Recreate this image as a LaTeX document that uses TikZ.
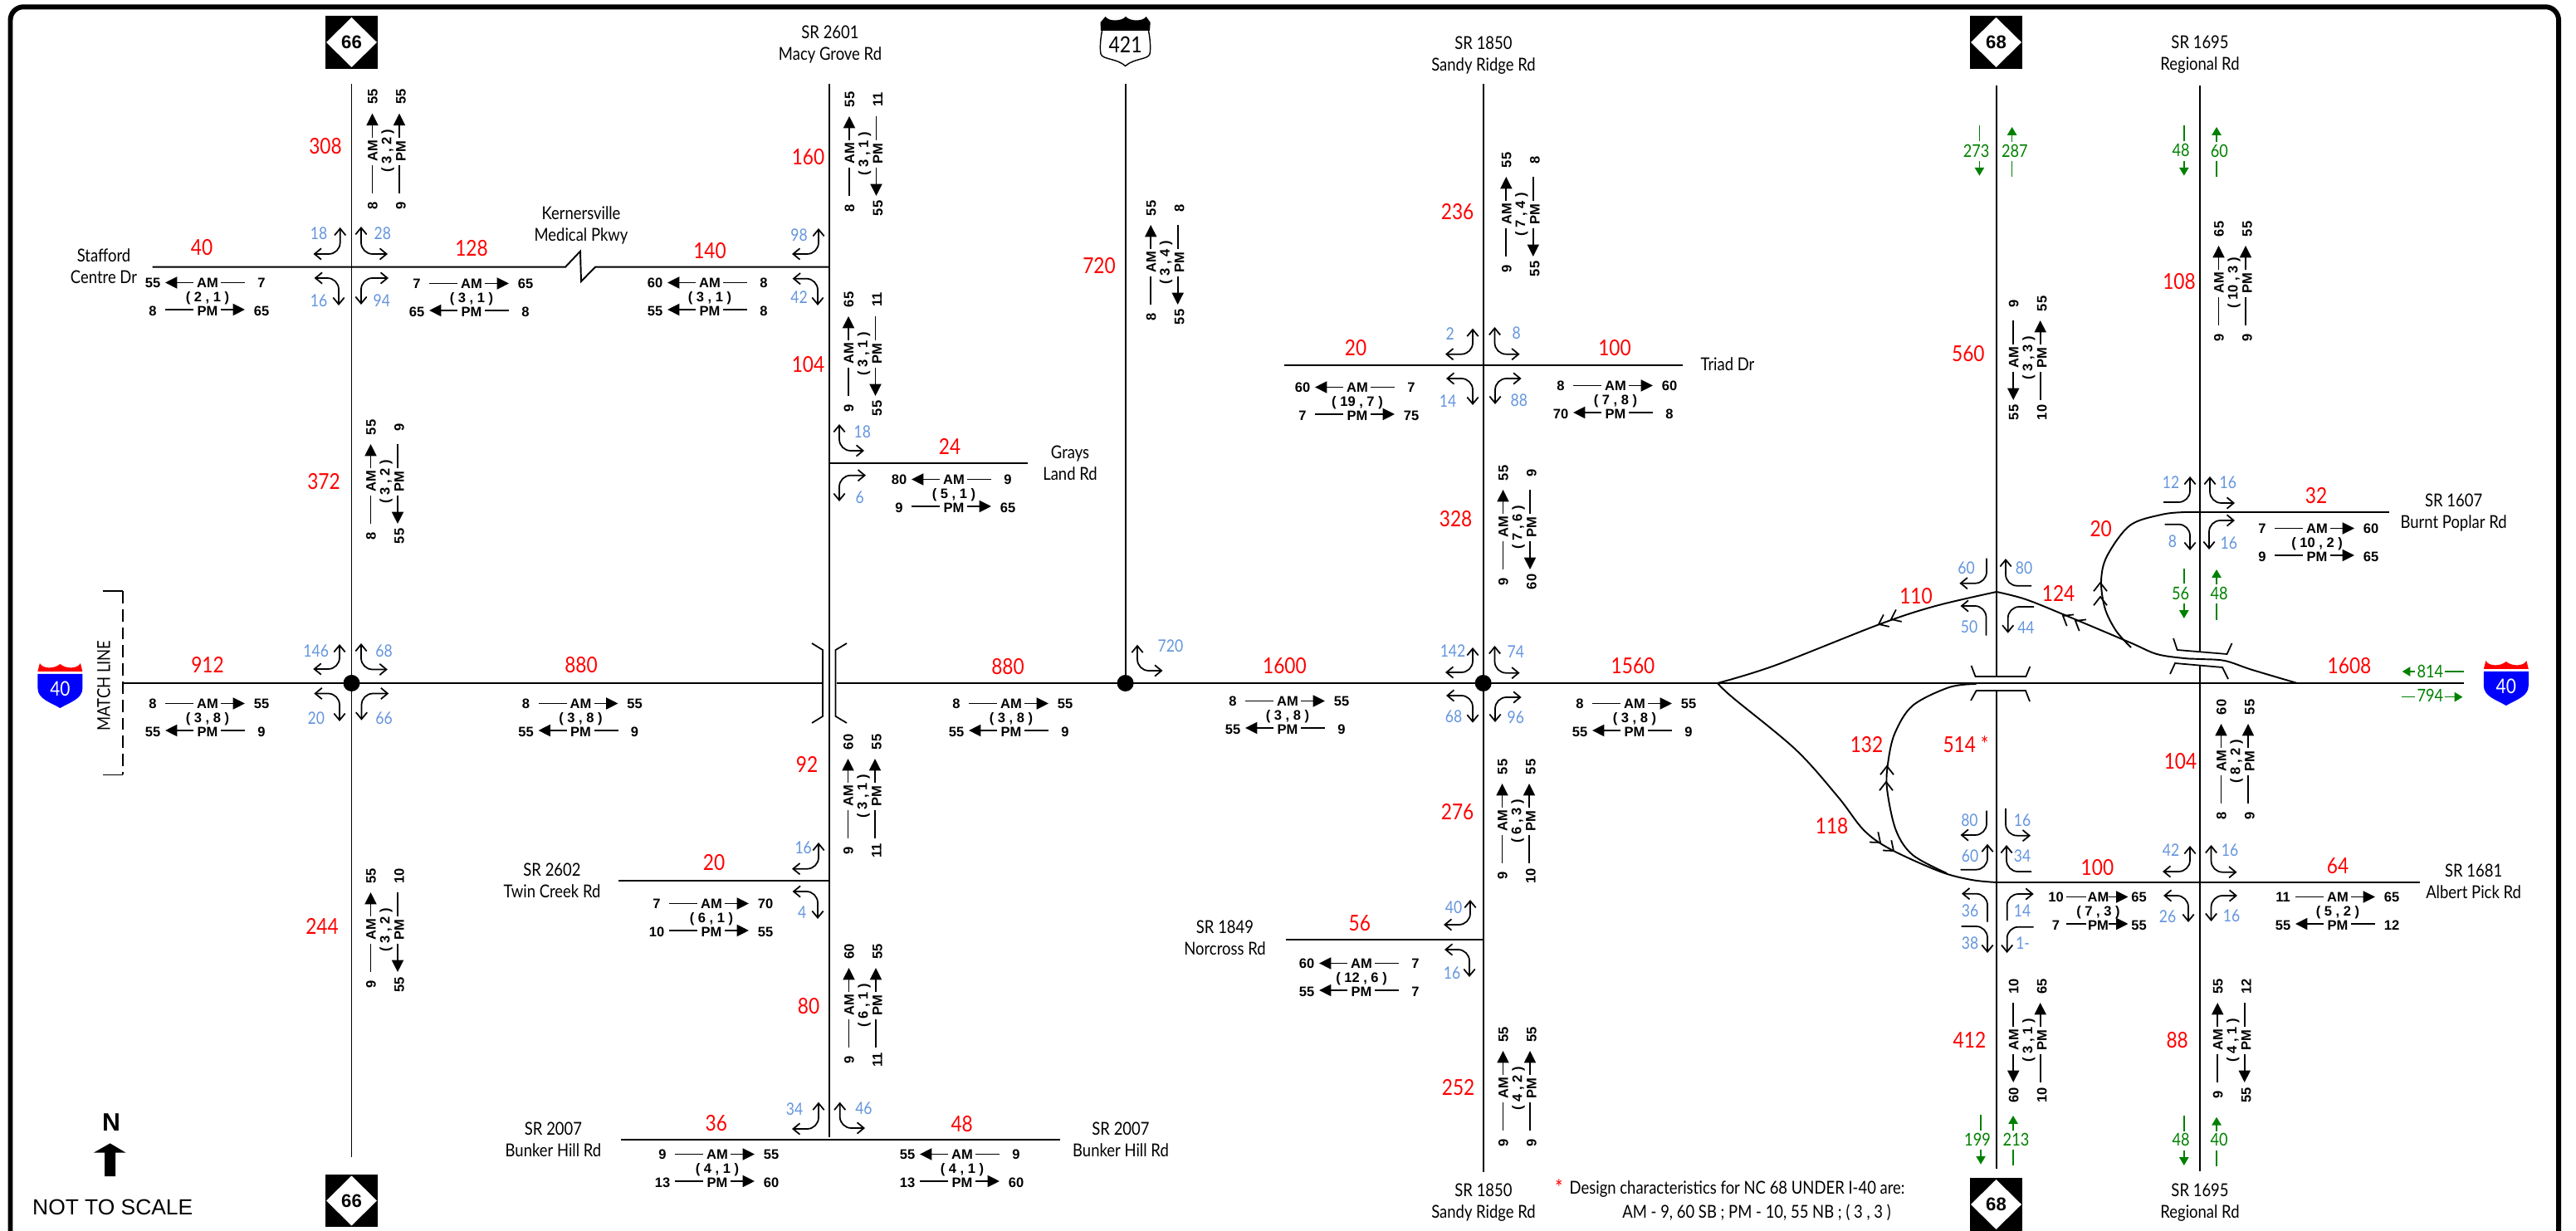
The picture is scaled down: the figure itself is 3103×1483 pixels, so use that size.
\documentclass[tikz,border=0pt]{standalone}
\usepackage{fontspec}
\usetikzlibrary{arrows.meta}
\newfontfamily\lblfont[FakeStretch=0.86]{Lato}
\newfontfamily\numfont{Liberation Sans}
\definecolor{vblue}{HTML}{6495DD}
\definecolor{vgreen}{HTML}{008000}
\tikzset{
 road/.style={line width=0.55pt,line cap=butt},
 thinl/.style={line width=0.5pt},
 turn/.style={line width=0.5pt,rounded corners=3.9pt,arrows={-},>={Straight Barb[length=2.3pt,width=3.8pt]}},
 farrow/.style={line width=0.5pt,-{Triangle[length=4.1pt,width=4pt]}},
 garrow/.style={line width=0.45pt,vgreen,-{Triangle[length=2.8pt,width=3.2pt]}},
 gline/.style={line width=0.45pt,vgreen},
 numtxt/.style={inner sep=0pt,font=\numfont\bfseries\fontsize{4.7pt}{5pt}\selectfont},
 redtxt/.style={inner sep=0pt,text=red,font=\lblfont\fontsize{7.5pt}{9pt}\selectfont},
 bluetxt/.style={inner sep=0pt,text=vblue,font=\lblfont\fontsize{5.8pt}{7pt}\selectfont},
 greentxt/.style={inner sep=0pt,text=vgreen,font=\lblfont\fontsize{6pt}{7pt}\selectfont},
 roadtxt/.style={inner sep=0pt,align=center,font=\lblfont\fontsize{6.1pt}{7.4pt}\selectfont},
}
\newcount\nn
\newcommand\tx[4][]{\global\advance\nn by 1 \node[#1] (t\the\nn) at (#2,#3) {#4};}
\newcommand\rd[3]{\tx[redtxt]{#1}{#2}{#3}}
\newcommand\blc[3]{\tx[bluetxt]{#1}{#2}{#3}}
\newcommand\ble[3]{\tx[bluetxt,anchor=east]{#1}{#2}{#3}}
\newcommand\blw[3]{\tx[bluetxt,anchor=west]{#1}{#2}{#3}}
\newcommand\gr[3]{\tx[greentxt]{#1}{#2}{#3}}
\newcommand\rn[3]{\tx[roadtxt]{#1}{#2}{#3}}
% turning arrow: horizontal end, vertical end
\newcommand\trn[5]{\draw[turn,#1] (#2,#3) -- (#4,#3) -- (#4,#5);}
\newcommand\chev[3]{\draw[line width=0.5pt] (#1,#2) ++({#3+142}:13) -- (#1,#2) -- ++({#3+218}:13);}
% count block
\def\Nl{-66}\def\Nr{65}\def\Ll{-51}\def\Lr{-17}\def\Rl{16}\def\Rr{45}
\def\brow#1#2#3#4#5{%
 \tx{\Nl}{#1}{#3}\tx{\Nr}{#1}{#4}%
 \if#5R\relax
  \draw[thinl] (\Ll,#2) -- (\Lr,#2); \draw[farrow] (\Rl,#2) -- (\Rr,#2);
 \else
  \draw[farrow] (\Lr,#2) -- (\Ll,#2); \draw[thinl] (\Rl,#2) -- (\Rr,#2);
 \fi}
\newcommand\blk[5]{%
 \begin{scope}[shift={#2},rotate=#1,every node/.append style={numtxt,transform shape}]
  \brow{-18}{-18.5}#3%
  \tx{0}{-18}{AM}%
  \tx{0}{0}{#4}%
  \brow{16}{14}#5%
  \tx{0}{16}{PM}%
 \end{scope}}
\newcommand\ncsh[3]{%
 \fill (#1-31.8,#2-31.7) rectangle (#1+31.8,#2+31.7);
 \fill[white] (#1-30.5,#2) -- (#1,#2-30) -- (#1+30.5,#2) -- (#1,#2+30) -- cycle;
 \tx[inner sep=0pt,font=\numfont\bfseries\fontsize{6.3pt}{7pt}\selectfont]{#1}{#2}{#3}}
\newcommand\ishield[2]{%
 \fill[red] (#1-27,#2+10) -- (#1-24.5,#2) .. controls (#1-21,#2+7) and (#1-7,#2+7) .. (#1,#2+1)
   .. controls (#1+7,#2+7) and (#1+21,#2+7) .. (#1+24.5,#2) -- (#1+27,#2+10) -- cycle;
 \fill[blue] (#1-27,#2+13) -- (#1+27,#2+13) -- (#1+27,#2+30)
   .. controls (#1+27,#2+43) and (#1+12,#2+47) .. (#1,#2+54)
   .. controls (#1-12,#2+47) and (#1-27,#2+43) .. (#1-27,#2+30) -- cycle;
 \tx[inner sep=0pt,text=white,font=\lblfont\fontsize{6.9pt}{8pt}\selectfont]{#1}{#2+31}{40}}
\begin{document}
\begin{tikzpicture}[x=0.01cm,y=-0.01cm]
\useasboundingbox (0,0) rectangle (3103,1483);
% frame
\draw[line width=1.7pt,rounded corners=4.5pt] (12.5,1490) -- (12.5,8.3) -- (3082,8.3) -- (3082,1490);
% road coordinates
\coordinate (w) at (148,823);
\coordinate (brW) at (991,823);
\coordinate (brE) at (1008,823);
\coordinate (e) at (2968,823);
\coordinate (jn) at (2069,823);
\coordinate (n66a) at (423.5,101); \coordinate (n66b) at (423.5,1394);
\coordinate (macA) at (999,101); \coordinate (macB) at (999,1370);
\coordinate (usA) at (1355.6,101); \coordinate (usB) at (1355.6,823);
\coordinate (sanA) at (1786.7,101); \coordinate (sanB) at (1786.7,1412);
\coordinate (n68a) at (2404.5,103); \coordinate (n68b) at (2404.5,815);
\coordinate (n68c) at (2404.5,832); \coordinate (n68d) at (2404.5,1408);
\coordinate (regA) at (2650,103); \coordinate (regB) at (2650,785);
\coordinate (regC) at (2650,802); \coordinate (regD) at (2650,1411);
\coordinate (staf) at (183.7,321.7); \coordinate (macK) at (999,321.7);
\coordinate (gray) at (1238,558); \coordinate (macG) at (999,558);
\coordinate (twin) at (745,1060.7); \coordinate (macT) at (999,1060.7);
\coordinate (bunW) at (748,1372.7); \coordinate (bunE) at (1277,1372.7);
\coordinate (triW) at (1547,440); \coordinate (triE) at (2027,440);
\coordinate (norW) at (1548.5,1132); \coordinate (norE) at (1786.7,1132);
\coordinate (burnW) at (2650,617); \coordinate (burnE) at (2878,617);
\coordinate (albW) at (2405,1063); \coordinate (albE) at (2915,1063);
% roads
\draw[road] (n66a) -- (n66b);
\draw[road] (macA) -- (macB);
\draw[road] (usA) -- (usB);
\draw[road] (sanA) -- (sanB);
\draw[road] (n68a) -- (n68b);
\draw[road] (n68c) -- (n68d);
\draw[road] (regA) -- (regB);
\draw[road] (regC) -- (regD);
\draw[road] (w) -- (brW);
\draw[road] (brE) -- (e);
\draw[road] (staf) -- (681,321.7) -- (699,302.7) -- (700,339) -- (717,321.7) -- (macK);
\draw[road] (macG) -- (gray);
\draw[road] (twin) -- (macT);
\draw[road] (bunW) -- (bunE);
\draw[road] (triW) -- (triE);
\draw[road] (norW) -- (norE);
\draw[road] (burnW) -- (burnE);
\draw[road] (albW) -- (albE);
% ramps
\draw[road] plot[smooth,tension=0.55] coordinates {(2069,823) (2138,801.7) (2265,751.7) (2331.6,730) (2405,713)};
\draw[road] plot[smooth,tension=0.55] coordinates {(2405,713) (2440,722) (2489,741.7) (2565.6,774) (2598,788) (2631,793) (2650,794) (2680,796) (2712,806.7) (2767,823)};
\draw[road] plot[smooth,tension=0.55] coordinates {(2650,617) (2631,617) (2603.6,620) (2565.6,633) (2538,670) (2531,700) (2535.6,733) (2549,760) (2567,780)};
\draw[road] plot[smooth,tension=0.55] coordinates {(2069,823) (2086.7,840) (2163,903) (2214,960) (2245,1000) (2277,1023) (2337,1050) (2375,1060) (2405,1063)};
\draw[road] plot[smooth,tension=0.55] coordinates {(2380.6,824) (2348,828) (2304,850) (2282.6,883) (2274.5,917) (2273,950) (2283.7,1000) (2304,1030) (2345,1052)};
% chevrons
\chev{2263}{752}{155}\chev{2278}{746}{155}
\chev{2485}{742}{211}\chev{2500}{748}{211}
\chev{2530}{702}{270}\chev{2530}{719}{270}
\chev{2273}{923}{270}\chev{2272}{942}{270}
\chev{2265}{1015}{40}\chev{2281}{1025}{40}
% bridges
\draw[line width=0.5pt] (978,775) -- (991,783) -- (991,863) -- (978,871);
\draw[line width=0.5pt] (1020,775) -- (1006.6,783) -- (1006.6,863) -- (1020,871);
\draw[line width=0.5pt] (2374.6,802) -- (2379.5,815) -- (2440.4,815) -- (2445.3,803);
\draw[line width=0.5pt] (2374,844) -- (2380.6,832) -- (2440,832) -- (2445,845);
\draw[line width=0.5pt] (2618,769) -- (2622.7,783) -- (2682.5,788) -- (2688.5,775);
\draw[line width=0.5pt] (2614,812) -- (2620,799) -- (2677,804) -- (2684,818);
% interchange dots
\fill (423.5,823) circle[radius=10];
\fill (1355.6,823) circle[radius=10];
\fill (1786.7,823) circle[radius=10];
% match line
\draw[line width=0.55pt] (123.5,712) -- (148,712);
\draw[line width=0.55pt] (123.5,933.5) -- (148,933.5);
\draw[line width=0.55pt,dash pattern=on 4.2pt off 2pt] (148,712) -- (148,933.5);
\tx[roadtxt,rotate=90]{125}{826}{MATCH LINE}
% turning arrows
% Stafford
\trn{<->}{377.5}{306}{409.7}{274}\trn{<->}{467}{306}{435}{273}
\trn{<->}{378.6}{335}{408}{368}\trn{<->}{468}{335}{435}{367}
\ble{395}{281}{18}\blw{450}{281}{28}\ble{395}{362}{16}\blw{449}{362}{94}
% Kernersville
\trn{<->}{954}{306}{986}{275}\trn{<->}{954.6}{335.7}{985}{368}
\ble{973.5}{283.7}{98}\ble{973.5}{358}{42}
% Grays
\trn{<->}{1041}{543}{1011}{511}\trn{<->}{1043}{572.7}{1011}{604}
\blw{1028}{520}{18}\blw{1030}{599}{6}
% I-40 at NC66
\trn{<->}{377.3}{806}{409}{776}\trn{<->}{466.8}{806.5}{435}{775}
\trn{<->}{378.3}{835.5}{409}{869}\trn{<->}{468.3}{835.5}{435.5}{867.7}
\ble{396.7}{784}{146}\blw{451.7}{784}{68}\ble{391.7}{865}{20}\blw{451.7}{865}{66}
% US421
\trn{<->}{1400.5}{808}{1370}{776.7}
\blw{1394}{778}{720}
% Triad
\trn{<->}{1741}{426.7}{1774}{395.7}\trn{<->}{1830.6}{426.7}{1800.5}{394}
\trn{<->}{1742}{456}{1774}{488}\trn{<->}{1832.6}{456}{1801}{487}
\ble{1752.6}{402}{2}\blw{1821}{401}{8}\ble{1755}{482.7}{14}\blw{1819}{482.7}{88}
% Sandy at I-40
\trn{<->}{1741}{810}{1774}{780}\trn{<->}{1830.6}{810.7}{1800.5}{778}
\trn{<->}{1742}{838}{1774}{870.7}\trn{<->}{1832.6}{840}{1801}{870}
\ble{1766}{784}{142}\blw{1815}{785}{74}\ble{1762}{862.7}{68}\blw{1815}{864}{96}
% Twin Creek
\trn{<->}{954}{1046.7}{986}{1015}\trn{<->}{954.6}{1074}{985}{1107}
\ble{978.6}{1021.7}{16}\ble{972}{1099}{4}
% Bunker Hill
\trn{<->}{954}{1360}{986}{1327.7}\trn{<->}{1042}{1359}{1011.7}{1327.7}
\ble{968}{1335.7}{34}\blw{1029.6}{1335.7}{46}
% Norcross
\trn{<->}{1739}{1114}{1771}{1084}\trn{<->}{1740}{1144}{1770}{1177}
\ble{1762}{1092.7}{40}\ble{1760}{1172.7}{16}
% Burnt Poplar
\trn{->}{2606}{605}{2638}{574}\trn{<->}{2692}{606}{2662}{574}
\trn{->}{2607.5}{631.7}{2638}{663}\trn{<->}{2692}{627}{2661}{662}
\blc{2615}{581}{12}\blw{2673}{581}{16}\blc{2617}{652.7}{8}\blw{2674}{654}{16}
% NC68 upper ramps
\trn{<-}{2360.4}{702.7}{2393}{672.7}\trn{->}{2447}{705.7}{2416}{673}
\trn{<-}{2361.5}{730}{2392.5}{765.7}\trn{->}{2450}{731}{2418.7}{762.7}
\blc{2368.6}{684}{60}\blc{2438}{684}{80}\blc{2372}{755}{50}\blc{2440.4}{756}{44}
% NC68 lower ramps
\trn{<-}{2361.5}{1006}{2393}{976.7}\trn{<-}{2446}{1006.7}{2416}{974}
\trn{->}{2361.5}{1047.7}{2394}{1016.7}\trn{->}{2447}{1050}{2417}{1018}
\trn{<-}{2363}{1076.7}{2394}{1110.7}\trn{<-}{2449.7}{1077}{2417.6}{1109}
\trn{->}{2362.6}{1116}{2394}{1148}\trn{->}{2449.7}{1116.7}{2417.6}{1148}
\blc{2372.4}{988}{80}\blc{2436}{988}{16}\blc{2373}{1031}{60}\blc{2436}{1031}{34}
\blc{2373}{1097}{36}\blc{2436}{1097}{14}\blc{2373}{1136}{38}\blc{2436.6}{1136}{1-}
% Albert Pick
\trn{<->}{2605}{1050}{2638}{1019}\trn{<->}{2694.5}{1050.7}{2663.5}{1018}
\trn{<->}{2606}{1079}{2636}{1111}\trn{<->}{2695}{1079}{2663.5}{1110}
\blc{2615}{1024}{42}\blc{2686}{1024}{16}\blc{2611}{1104}{26}\blc{2688}{1103}{16}
% horizontal blocks
\blk{0}{(250,359)}{{55}{7}{L}}{( 2 , 1 )}{{8}{65}{R}}
\blk{0}{(568,360)}{{7}{65}{R}}{( 3 , 1 )}{{65}{8}{L}}
\blk{0}{(855,359)}{{60}{8}{L}}{( 3 , 1 )}{{55}{8}{L}}
\blk{0}{(250,866)}{{8}{55}{R}}{( 3 , 8 )}{{55}{9}{L}}
\blk{0}{(699.5,866)}{{8}{55}{R}}{( 3 , 8 )}{{55}{9}{L}}
\blk{0}{(1218,866)}{{8}{55}{R}}{( 3 , 8 )}{{55}{9}{L}}
\blk{0}{(1551,863)}{{8}{55}{R}}{( 3 , 8 )}{{55}{9}{L}}
\blk{0}{(1969,866)}{{8}{55}{R}}{( 3 , 8 )}{{55}{9}{L}}
\blk{0}{(1149,596)}{{80}{9}{L}}{( 5 , 1 )}{{9}{65}{R}}
\blk{0}{(857,1107)}{{7}{70}{R}}{( 6 , 1 )}{{10}{55}{R}}
\blk{0}{(864,1409)}{{9}{55}{R}}{( 4 , 1 )}{{13}{60}{R}}
\blk{0}{(1159,1409)}{{55}{9}{L}}{( 4 , 1 )}{{13}{60}{R}}
\blk{0}{(1640,1179)}{{60}{7}{L}}{( 12 , 6 )}{{55}{7}{L}}
\blk{0}{(1635,485)}{{60}{7}{L}}{( 19 , 7 )}{{7}{75}{R}}
\blk{0}{(1946,483)}{{8}{60}{R}}{( 7 , 8 )}{{70}{8}{L}}
\blk{0}{(2791,655)}{{7}{60}{R}}{( 10 , 2 )}{{9}{65}{R}}
{\def\Nl{-51}\def\Nr{49}\def\Ll{-39}\def\Lr{-15}\def\Rl{12}\def\Rr{36}
\blk{0}{(2527.5,1099)}{{10}{65}{R}}{( 7 , 3 )}{{7}{55}{R}}}
\blk{0}{(2816,1099)}{{11}{65}{R}}{( 5 , 2 )}{{55}{12}{L}}
% vertical blocks
\blk{90}{(467,181.7)}{{8}{55}{R}}{( 3 , 2 )}{{9}{55}{R}}
\blk{90}{(465,580)}{{8}{55}{R}}{( 3 , 2 )}{{55}{9}{L}}
\blk{90}{(465,1120)}{{9}{55}{R}}{( 3 , 2 )}{{55}{10}{L}}
\blk{90}{(1041.5,185)}{{8}{55}{R}}{( 3 , 1 )}{{55}{11}{L}}
\blk{90}{(1040.5,426)}{{9}{65}{R}}{( 3 , 1 )}{{55}{11}{L}}
\blk{90}{(1040,959)}{{9}{60}{R}}{( 3 , 1 )}{{11}{55}{R}}
\blk{90}{(1041,1211)}{{9}{60}{R}}{( 6 , 1 )}{{11}{55}{R}}
\blk{90}{(1404.7,316)}{{8}{55}{R}}{( 3 , 4 )}{{55}{8}{L}}
\blk{90}{(1832.8,258)}{{9}{55}{R}}{( 7 , 4 )}{{55}{8}{L}}
\blk{90}{(1829,635)}{{9}{55}{R}}{( 7 , 6 )}{{60}{9}{L}}
\blk{90}{(1828,989)}{{9}{55}{R}}{( 6 , 3 )}{{10}{55}{R}}
\blk{90}{(1829,1311)}{{9}{55}{R}}{( 4 , 2 )}{{9}{55}{R}}
\blk{90}{(2443.7,431)}{{55}{9}{L}}{( 3 , 3 )}{{10}{55}{R}}
\blk{90}{(2691,341)}{{9}{65}{R}}{( 10 , 3 )}{{9}{55}{R}}
\blk{90}{(2694,917)}{{8}{60}{R}}{( 8 , 2 )}{{9}{55}{R}}
\blk{90}{(2443.7,1253)}{{60}{10}{L}}{( 3 , 1 )}{{10}{65}{R}}
\blk{90}{(2689.7,1253)}{{9}{55}{R}}{( 4 , 1 )}{{55}{12}{L}}
% red volumes
\rd{392}{175.7}{308}\rd{243}{297.7}{40}\rd{568}{299}{128}\rd{855}{302}{140}
\rd{973.5}{188.7}{160}\rd{973.5}{439}{104}\rd{1324}{320}{720}\rd{390}{580}{372}
\rd{250}{801}{912}\rd{700}{801}{880}\rd{1214}{803}{880}\rd{1547.4}{802}{1600}
\rd{972}{920.7}{92}\rd{1144}{537.7}{24}\rd{860}{1038.7}{20}\rd{974}{1212}{80}
\rd{862.8}{1352.7}{36}\rd{1158.7}{1353.7}{48}\rd{388}{1116}{244}
\rd{1755.6}{255}{236}\rd{1633}{419}{20}\rd{1945}{419}{100}\rd{1753.6}{625}{328}
\rd{1967}{802}{1560}\rd{1755.6}{977.7}{276}\rd{1637.8}{1111.7}{56}\rd{1756.6}{1309.7}{252}
\rd{2370.8}{426}{560}\rd{2625}{338.7}{108}\rd{2308}{718}{110}\rd{2479.6}{715}{124}
\rd{2530.7}{637}{20}\rd{2790}{597}{32}\rd{2830}{802}{1608}\rd{2248.5}{896.7}{132}
\rd{2206.6}{995}{118}\rd{2368}{897}{514 *}\rd{2626.5}{916.7}{104}\rd{2526.4}{1044.7}{100}
\rd{2816}{1043}{64}\rd{2372.4}{1252.7}{412}\rd{2622.7}{1252.7}{88}
% green
\draw[gline] (2384.4,151) -- (2384.4,170);\draw[garrow] (2384.4,194) -- (2384.4,211.7);
\draw[garrow] (2423.6,170.7) -- (2423.6,153);\draw[gline] (2423.6,194) -- (2423.6,212.7);
\gr{2380.6}{181.7}{273}\gr{2426.8}{181.7}{287}
\draw[gline] (2630.8,151) -- (2630.8,170);\draw[garrow] (2630.8,194) -- (2630.8,211.7);
\draw[garrow] (2670,170.7) -- (2670,153);\draw[gline] (2670,194) -- (2670,212.7);
\gr{2627}{181}{48}\gr{2673.3}{181.7}{60}
\draw[gline] (2630.8,685) -- (2630.8,703);\draw[garrow] (2630.8,727) -- (2630.8,745);
\draw[garrow] (2670,704) -- (2670,686);\draw[gline] (2670,727) -- (2670,746.7);
\gr{2626.5}{715}{56}\gr{2673}{715}{48}
\draw[gline] (2386,1342.7) -- (2386,1361.7);\draw[garrow] (2386,1385) -- (2386,1402.7);
\draw[garrow] (2425,1361.7) -- (2425,1344);\draw[gline] (2425,1385) -- (2425,1404);
\gr{2382}{1372.7}{199}\gr{2428.5}{1372.7}{213}
\draw[gline] (2630.8,1344) -- (2630.8,1363);\draw[garrow] (2630.8,1386) -- (2630.8,1404);
\draw[garrow] (2670,1363) -- (2670,1345.7);\draw[gline] (2670,1386) -- (2670,1405);
\gr{2627}{1373}{48}\gr{2673}{1373}{40}
\draw[garrow] (2909.4,809) -- (2893.6,809);\draw[gline] (2945,809) -- (2968,809);
\gr{2927.4}{809}{814}
\draw[gline] (2893,839.7) -- (2909.4,839.7);\draw[garrow] (2945,839.7) -- (2966.5,839.7);
\gr{2927.4}{838}{794}
% road names
\rn{125}{321}{Stafford\\Centre Dr}
\rn{700}{271.5}{Kernersville\\Medical Pkwy}
\rn{1000}{53.7}{SR 2601\\Macy Grove Rd}
\rn{1787}{66.5}{SR 1850\\Sandy Ridge Rd}
\rn{2650}{66}{SR 1695\\Regional Rd}
\rn{1289}{558}{Grays\\Land Rd}
\rn{2081}{438.7}{Triad Dr}
\rn{665}{1060.7}{SR 2602\\Twin Creek Rd}
\rn{666.5}{1372.5}{SR 2007\\Bunker Hill Rd}
\rn{1350}{1373}{SR 2007\\Bunker Hill Rd}
\rn{1475.5}{1130}{SR 1849\\Norcross Rd}
\rn{1787}{1448.5}{SR 1850\\Sandy Ridge Rd}
\rn{2650}{1448.7}{SR 1695\\Regional Rd}
\rn{2955.6}{618}{SR 1607\\Burnt Poplar Rd}
\rn{2979.6}{1061.5}{SR 1681\\Albert Pick Rd}
% note
\tx[redtxt]{1878}{1431}{*}
\tx[roadtxt,anchor=west]{1890}{1432.3}{Design characteristics for NC 68 UNDER I-40 are:}
\rn{2116}{1461}{AM - 9, 60 SB ; PM - 10, 55 NB ; ( 3 , 3 )}
% shields
\ncsh{423.5}{51}{66}
\ncsh{423.5}{1446.5}{66}
\ncsh{2404.5}{51}{68}
\ncsh{2404.5}{1451}{68}
\ishield{72.4}{799}
\ishield{3018.8}{796}
% US 421 shield
\fill (1326,37) -- (1325.5,27) -- (1331.6,20) .. controls (1335,26) and (1351,26) .. (1356,20)
 .. controls (1361,26) and (1377,26) .. (1380.6,20) -- (1385.7,27) -- (1385,37) -- cycle;
\draw[line width=0.4pt] (1327.5,37) .. controls (1325,50) and (1325,60) .. (1326,65)
 .. controls (1328,72) and (1345,70) .. (1355.6,79.5)
 .. controls (1366,70) and (1383,72) .. (1385,65)
 .. controls (1386,60) and (1386,50) .. (1383.5,37);
\tx[inner sep=0pt,font=\lblfont\fontsize{7.6pt}{9pt}\selectfont]{1355.6}{54}{421}
% north arrow
\fill (132.6,1377.4) -- (151.5,1388.6) -- (139,1388.6) -- (139,1417) -- (126,1417) -- (126,1388.6) -- (113,1388.6) -- cycle;
\tx[inner sep=0pt,font=\numfont\bfseries\fontsize{8.6pt}{10pt}\selectfont]{134}{1352}{N}
\tx[inner sep=0pt,font=\numfont\fontsize{7.5pt}{9pt}\selectfont]{135.7}{1454.7}{NOT TO SCALE}
\end{tikzpicture}
\end{document}
